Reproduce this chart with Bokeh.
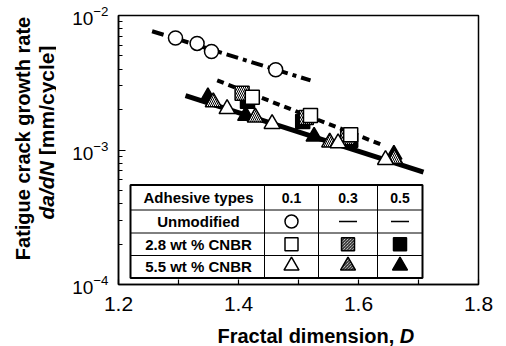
import numpy as np
from bokeh.plotting import figure
from bokeh.layouts import row, column
from bokeh.models import FixedTicker
from bokeh.embed import file_html
from bokeh.resources import INLINE
from bokeh.core.properties import value

FONT = "Liberation Sans"

# ---------------- data ----------------
circ01_D = [1.295, 1.331, 1.355, 1.462]
circ01_y = [6.80e-3, 6.20e-3, 5.40e-3, 3.95e-3]

sq01_D = [1.423, 1.520, 1.587]
sq01_y = [2.47e-3, 1.805e-3, 1.30e-3]
sq03_D = [1.406, 1.513, 1.582]
sq03_y = [2.64e-3, 1.745e-3, 1.24e-3]
sq05_D = [1.415, 1.507, 1.587]
sq05_y = [2.30e-3, 1.63e-3, 1.18e-3]

tri01_D = [1.381, 1.456, 1.566, 1.645]
tri01_y = [2.02e-3, 1.567e-3, 1.125e-3, 8.45e-4]
tri03_D = [1.358, 1.428, 1.552, 1.660]
tri03_y = [2.27e-3, 1.75e-3, 1.14e-3, 8.60e-4]
tri05_D = [1.349, 1.412, 1.526, 1.659]
tri05_y = [2.47e-3, 1.80e-3, 1.26e-3, 9.26e-4]

fit_unmod_D = [1.256, 1.520]
fit_unmod_y = [7.64e-3, 3.29e-3]
fit_28_D = [1.3645, 1.642]
fit_28_y = [3.29e-3, 1.08e-3]
fit_55_D = [1.3117, 1.7083]
fit_55_y = [2.54e-3, 6.84e-4]

xtick_major = [1.2, 1.4, 1.6, 1.8]
xtick_minor = [1.3, 1.5, 1.7]
ytick_major = [1e-4, 1e-3, 1e-2]
ytick_minor = [m * d for d in (1e-4, 1e-3) for m in range(2, 10)]

x_title = ["Fractal dimension, ", "D"]
y_title_1 = "Fatigue crack growth rate"
y_title_2 = ["da/dN", "[mm/cycle]"]

table_header = ["Adhesive types", "0.1", "0.3", "0.5"]
table_rows = ["Unmodified", "2.8 wt % CNBR", "5.5 wt % CNBR"]

# ---------------- layout (page pixels) ----------------
X0, X1 = 1.2, 1.8
Y0, Y1 = 1e-4, 1e-2
W, H = 506, 346
LW = 56            # width of the left title strip
BH = 24            # height of the bottom title strip
FL, FR, FT, FB = 118, 478, 15, 284
LY0, LY1 = np.log10(Y0), np.log10(Y1)


def dx(px):
    return X0 + (px - FL) / (FR - FL) * (X1 - X0)


def dy(py):
    return 10 ** (LY1 - (py - FT) / (FB - FT) * (LY1 - LY0))


def no_align(f):
    try:
        f.frame_align = False
    except Exception:
        pass


MW, MH = W - LW, H - BH
p = figure(width=MW, height=MH, x_range=(X0, X1), y_range=(Y0, Y1),
           y_axis_type="log", output_backend="svg", toolbar_location=None,
           min_border_left=FL - LW, min_border_right=W - FR,
           min_border_top=FT, min_border_bottom=MH - FB)
no_align(p)
p.grid.visible = False
p.background_fill_color = "white"
p.border_fill_color = "white"
p.outline_line_color = "black"
p.outline_line_width = 1.5

xa = p.xaxis[0]
xa.ticker = FixedTicker(ticks=xtick_major, minor_ticks=xtick_minor)
xa.major_tick_in = 5
xa.major_tick_out = 0
xa.minor_tick_in = 5
xa.minor_tick_out = 0
xa.axis_line_width = 1.5
xa.major_tick_line_width = 1.2
xa.minor_tick_line_width = 1.2
xa.major_label_text_font = FONT
xa.major_label_text_font_size = "21px"
xa.major_label_text_color = "black"
xa.major_label_standoff = 12

ya = p.yaxis[0]
ya.ticker = FixedTicker(ticks=ytick_major, minor_ticks=ytick_minor)
ya.major_tick_in = 7
ya.major_tick_out = 0
ya.minor_tick_in = 4
ya.minor_tick_out = 0
ya.axis_line_width = 1.5
ya.major_tick_line_width = 1.2
ya.minor_tick_line_width = 1.0
ya.major_label_text_font = FONT
ya.major_label_text_font_size = "19px"
ya.major_label_text_color = "black"
ya.major_label_standoff = 10

# fit lines
p.line(fit_unmod_D, fit_unmod_y, line_color="black", line_width=4,
       line_dash="12 5 4 5")
p.line(fit_28_D, fit_28_y, line_color="black", line_width=4,
       line_dash="7 5")
p.line(fit_55_D, fit_55_y, line_color="black", line_width=5)

# markers
p.scatter(circ01_D, circ01_y, marker="circle", size=14, fill_color="white",
          line_color="black", line_width=1.5)

p.scatter(sq05_D, sq05_y, marker="square", size=14, fill_color="black",
          line_color="black", line_width=1.5)
p.scatter(sq03_D, sq03_y, marker="square", size=14, fill_color="white",
          line_color="black", line_width=1.5, hatch_pattern="left_diagonal_line",
          hatch_scale=4, hatch_weight=1, hatch_color="black")
p.scatter(sq01_D, sq01_y, marker="square", size=14, fill_color="white",
          line_color="black", line_width=1.5)

p.scatter(tri05_D, tri05_y, marker="triangle", size=16, fill_color="black",
          line_color="black", line_width=1.5)
p.scatter(tri03_D, tri03_y, marker="triangle", size=16, fill_color="white",
          line_color="black", line_width=1.5, hatch_pattern="left_diagonal_line",
          hatch_scale=4, hatch_weight=1, hatch_color="black")
p.scatter(tri01_D, tri01_y, marker="triangle", size=16, fill_color="white",
          line_color="black", line_width=1.5)

# ---------------- table legend ----------------
col_px = [130, 264, 318, 377, 422]
row_px = [184.5, 209.5, 232.5, 255, 277.5]
p.quad(left=dx(col_px[0]), right=dx(col_px[-1]), top=dy(row_px[0]),
       bottom=dy(row_px[-1]), fill_color="white", line_color="black",
       line_width=2)
hx0, hx1, hy = [], [], []
for r in row_px[1:-1]:
    hx0.append(dx(col_px[0])); hx1.append(dx(col_px[-1])); hy.append(dy(r))
p.segment(x0=hx0, y0=hy, x1=hx1, y1=hy, line_color="black", line_width=1)
vx, vy0, vy1 = [], [], []
for c in col_px[1:-1]:
    vx.append(dx(c)); vy0.append(dy(row_px[0])); vy1.append(dy(row_px[-1]))
p.segment(x0=vx, y0=vy0, x1=vx, y1=vy1, line_color="black", line_width=1)

ccx = [(col_px[i] + col_px[i + 1]) / 2 for i in range(4)]
rcy = [(row_px[i] + row_px[i + 1]) / 2 for i in range(4)]

tx = [dx(ccx[0] + 1)] + [dx(c) for c in ccx[1:]] + [dx(ccx[0] + 1)] * 3
ty = [dy(rcy[0])] * 4 + [dy(r) for r in rcy[1:]]
tt = table_header + table_rows
tsize = ["15px", "14px", "14px", "14px", "15px", "15px", "15px"]
p.text(x=tx, y=ty, text=tt, text_align="center", text_baseline="middle",
       text_font=value(FONT), text_font_style="bold", text_font_size=tsize,
       text_color="black")

p.scatter([dx(ccx[1])], [dy(rcy[1])], marker="circle", size=13,
          fill_color="white", line_color="black", line_width=1.5)
p.segment(x0=[dx(ccx[2] - 9), dx(ccx[3] - 9)], y0=[dy(rcy[1])] * 2,
          x1=[dx(ccx[2] + 9), dx(ccx[3] + 9)], y1=[dy(rcy[1])] * 2,
          line_color="black", line_width=1.5)
p.scatter([dx(ccx[1])], [dy(rcy[2])], marker="square", size=13,
          fill_color="white", line_color="black", line_width=1.5)
p.scatter([dx(ccx[2])], [dy(rcy[2])], marker="square", size=13,
          fill_color="white", line_color="black", line_width=1.5,
          hatch_pattern="left_diagonal_line", hatch_scale=3, hatch_weight=1,
          hatch_color="black")
p.scatter([dx(ccx[3])], [dy(rcy[2])], marker="square", size=13,
          fill_color="black", line_color="black", line_width=1.5)
p.scatter([dx(ccx[1])], [dy(rcy[3] - 1)], marker="triangle", size=15,
          fill_color="white", line_color="black", line_width=1.5)
p.scatter([dx(ccx[2])], [dy(rcy[3] - 1)], marker="triangle", size=15,
          fill_color="white", line_color="black", line_width=1.5,
          hatch_pattern="left_diagonal_line", hatch_scale=3, hatch_weight=1,
          hatch_color="black")
p.scatter([dx(ccx[3])], [dy(rcy[3] - 1)], marker="triangle", size=15,
          fill_color="black", line_color="black", line_width=1.5)


# ---------------- title strips ----------------
def strip(w, h, xr, yr):
    f = figure(width=w, height=h, x_range=xr, y_range=yr,
               output_backend="svg", toolbar_location=None,
               x_axis_location=None, y_axis_location=None, min_border=0)
    no_align(f)
    f.grid.visible = False
    f.outline_line_color = None
    f.background_fill_color = "white"
    f.border_fill_color = "white"
    return f


# left strip: x = page x, y = H - page y (whole strip is the frame)
ls = strip(LW, H, (0, LW), (0, H))
ls.text(x=[22], y=[H - 138], text=[y_title_1], angle=np.pi / 2,
        text_align="center", text_baseline="middle",
        text_font=value(FONT), text_font_size="20px",
        text_font_style="bold", text_color="black")
ls.text(x=[45.5], y=[H - 219], text=[y_title_2[0]], angle=np.pi / 2,
        text_align="left", text_baseline="middle",
        text_font=value(FONT), text_font_size="21px",
        text_font_style="bold italic", text_color="black")
ls.text(x=[45.5], y=[H - 219 + 58.3 + 6], text=[y_title_2[1]],
        angle=np.pi / 2, text_align="left", text_baseline="middle",
        text_font=value(FONT), text_font_size="21px",
        text_font_style="bold", text_color="black")

# bottom strip: x = page x, y = H - page y (whole strip is the frame)
bs = strip(MW, BH, (LW, W), (0, BH))
bs.text(x=[217], y=[H - 335], text=[x_title[0]], text_align="left",
        text_baseline="middle", text_font=value(FONT),
        text_font_size="20px", text_font_style="bold", text_color="black")
bs.text(x=[217 + 182.3], y=[H - 335], text=[x_title[1]], text_align="left",
        text_baseline="middle", text_font=value(FONT),
        text_font_size="20px", text_font_style="bold italic",
        text_color="black")

layout = row(ls, column(p, bs))
open("out.html", "w").write(file_html(layout, INLINE))
